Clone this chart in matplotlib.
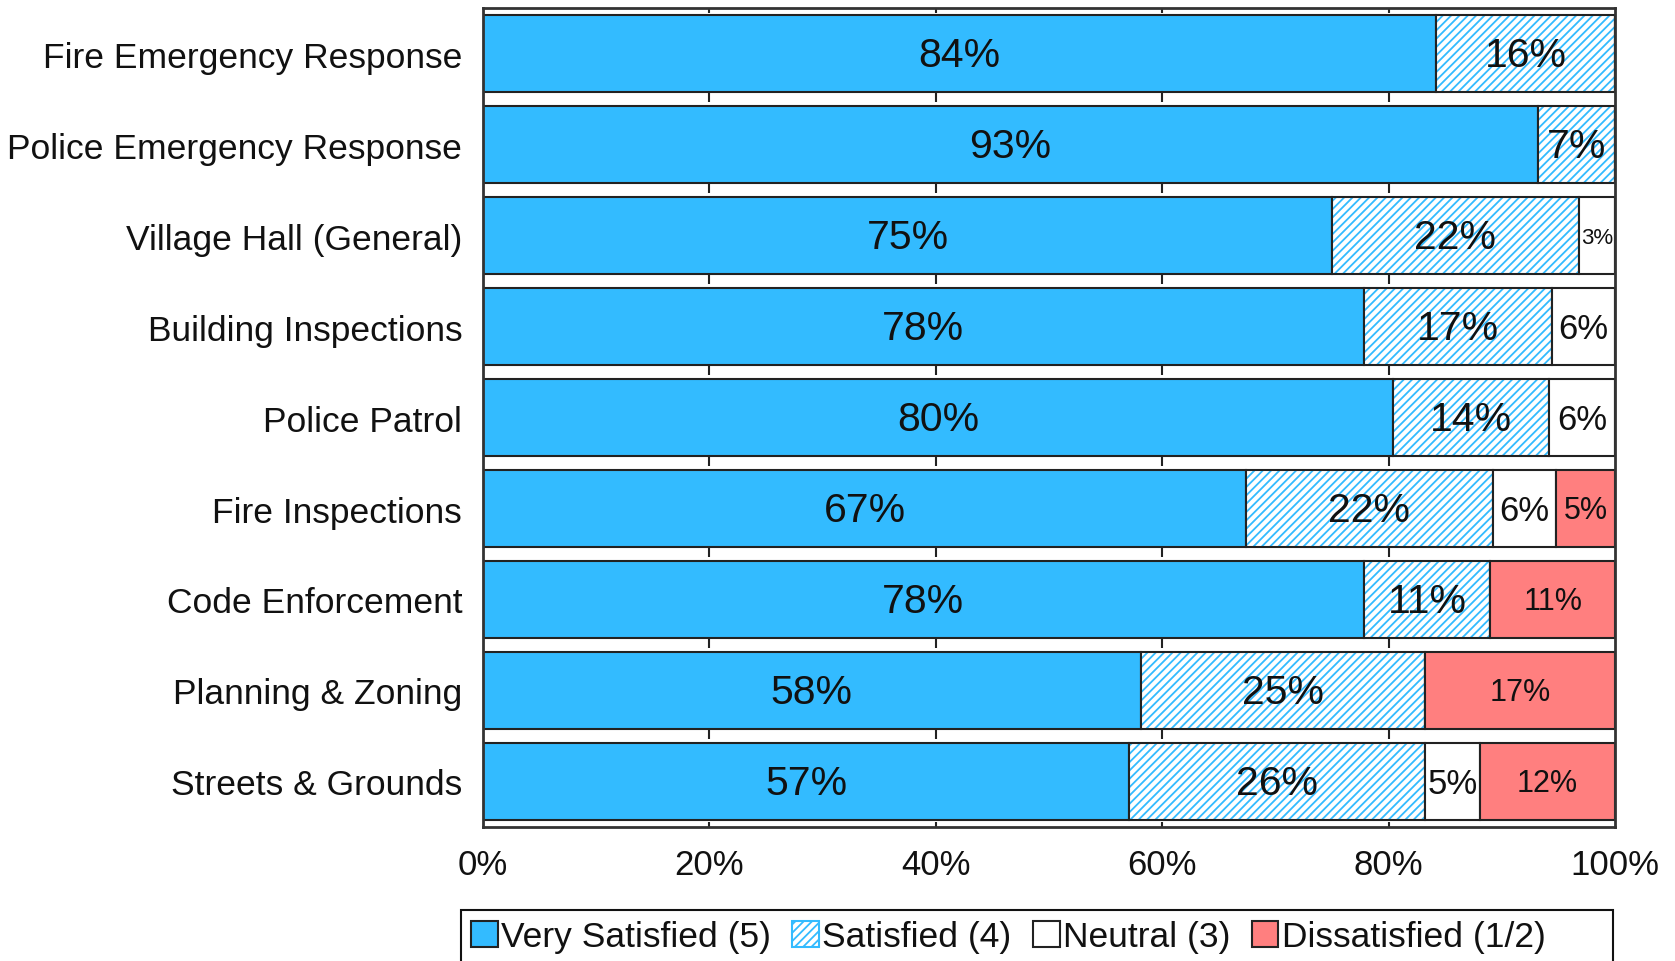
import matplotlib
matplotlib.use("Agg")
import matplotlib.pyplot as plt
import matplotlib.patches as patches
import numpy as np

plt.rcParams['font.family'] = ['Liberation Sans', 'DejaVu Sans']
plt.rcParams['hatch.linewidth'] = 1.3

# service categories, top to bottom
categories = ["Fire Emergency Response", "Police Emergency Response",
              "Village Hall (General)", "Building Inspections", "Police Patrol",
              "Fire Inspections", "Code Enforcement", "Planning & Zoning",
              "Streets & Grounds"]

# percent of respondents per rating
very_satisfied = [84.2, 93.2, 75.0, 77.8, 80.4, 67.4, 77.8, 58.1, 57.1]
satisfied = [15.8, 6.8, 21.8, 16.6, 13.8, 21.8, 11.2, 25.1, 26.1]
neutral = [0.0, 0.0, 3.2, 5.6, 5.8, 5.6, 0.0, 0.0, 4.9]
dissatisfied = [0.0, 0.0, 0.0, 0.0, 0.0, 5.2, 11.0, 16.8, 11.9]

series_names = ["Very Satisfied (5)", "Satisfied (4)", "Neutral (3)", "Dissatisfied (1/2)"]
xticks = [0, 20, 40, 60, 80, 100]

blue = '#33BBFF'
red = '#FF7F7F'
edge = '#222222'
bar_h = 0.85

fig = plt.figure(figsize=(16.75, 9.62), dpi=100)
ax = fig.add_axes([483 / 1675, 1 - 828 / 962, 1132 / 1675, 819 / 962])

y = np.arange(len(categories))
series = [very_satisfied, satisfied, neutral, dissatisfied]
label_sizes = [29.5, 29.5, 25, 22]
left = np.zeros(len(categories))

for k, vals in enumerate(series):
    vals = np.array(vals)
    if k == 0:
        ax.barh(y, vals, left=left, height=bar_h, color=blue, edgecolor=edge, linewidth=1.5)
    elif k == 1:
        # hatch in blue, outline in dark
        ax.barh(y, vals, left=left, height=bar_h, color='white', edgecolor=blue,
                hatch='////', linewidth=0)
        ax.barh(y, vals, left=left, height=bar_h, fill=False, edgecolor=edge, linewidth=1.5)
    elif k == 2:
        ax.barh(y, vals, left=left, height=bar_h, color='white', edgecolor=edge, linewidth=1.5)
    else:
        ax.barh(y, vals, left=left, height=bar_h, color=red, edgecolor=edge, linewidth=1.5)
    for i, v in enumerate(vals):
        if v <= 0:
            continue
        fs = label_sizes[k] if v >= 4 else 16
        ax.text(left[i] + v / 2, y[i] + 0.02, f"{round(v)}%", ha='center', va='center',
                fontsize=fs, color='#111111')
    left = left + vals

ax.set_xlim(0, 100)
ax.set_ylim(len(categories) - 0.5, -0.5)

# tick marks that hang in the gaps between bars
gap_tops = [-0.5] + [i + bar_h / 2 for i in range(len(categories) - 1)]
for g in gap_tops:
    gap = (1 - bar_h) if g > -0.5 else (0.5 - bar_h / 2)
    ax.vlines(xticks[1:-1], g, g + gap * 0.7, color=edge, linewidth=1.5)
bottom_top = len(categories) - 1 + bar_h / 2
ax.vlines(xticks[1:-1], bottom_top + 0.02, len(categories) - 0.5, color=edge, linewidth=1.5)

ax.set_yticks(y)
ax.set_yticklabels(categories, fontsize=25.5, color='#111111')
ax.set_xticks(xticks)
ax.set_xticklabels([f"{t}%" for t in xticks], fontsize=25, color='#111111')
ax.tick_params(axis='y', length=0, pad=15)
ax.tick_params(axis='x', length=0, pad=15)

for s in ax.spines.values():
    s.set_linewidth(2)
    s.set_color('#333333')

# legend box, cut off by the bottom edge
fig.patches.append(patches.Rectangle((461 / 1675, -0.05), 1152 / 1675, 0.05 + 51 / 962,
                                     transform=fig.transFigure, fill=False,
                                     edgecolor='#111111', linewidth=1.5))
handles = [
    patches.Patch(facecolor=blue, edgecolor=edge, linewidth=1.5),
    patches.Patch(facecolor='white', edgecolor=blue, hatch='////', linewidth=1.5),
    patches.Patch(facecolor='white', edgecolor=edge, linewidth=1.5),
    patches.Patch(facecolor=red, edgecolor=edge, linewidth=1.5),
]
fig.legend(handles, series_names, loc='center left', bbox_to_anchor=(471 / 1675, 1 - 938 / 962),
           ncol=4, frameon=False, fontsize=25.5, handlelength=0.75, handleheight=0.75,
           handletextpad=0.1, columnspacing=0.6, borderpad=0, borderaxespad=0,
           labelcolor='#111111')

fig.savefig("out.png", dpi=100)
